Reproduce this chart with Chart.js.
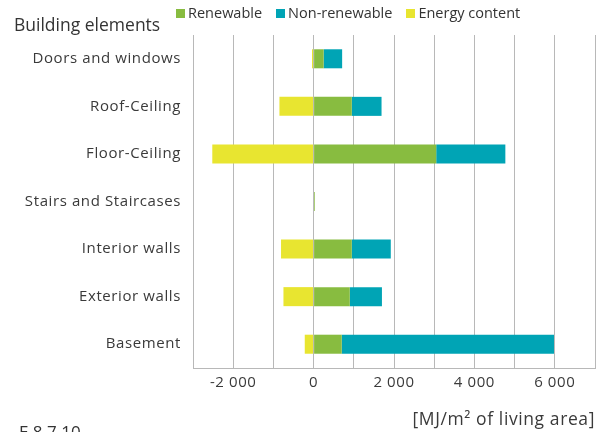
<!DOCTYPE html>
<html>
<head>
<meta charset="utf-8">
<script src="https://cdn.jsdelivr.net/npm/chart.js@4.4.1/dist/chart.umd.min.js"></script>
<style>
  html, body { margin: 0; padding: 0; background: #fff; }
  #wrap { position: relative; width: 601px; height: 432px; overflow: hidden;
          font-family: "Open Sans", sans-serif; color: #333; }
  #chart { position: absolute; left: 0; top: 0; }
  #heading { position: absolute; left: 14px; top: 10px; font-size: 17.5px; line-height: 28px; white-space: nowrap; }
  #legend { position: absolute; left: 176px; top: 3px; display: flex; font-size: 14.5px; line-height: 20px; white-space: nowrap; }
  .item { display: flex; align-items: center; margin-right: 14px; }
  .swatch { width: 9px; height: 9px; margin-right: 3px; }
  #code { position: absolute; left: 19px; top: 420px; font-size: 17px; line-height: 24px; white-space: nowrap; }
</style>
</head>
<body>
<div id="wrap">
  <canvas id="chart" width="601" height="432"></canvas>
  <div id="heading">Building elements</div>
  <div id="legend"></div>
  <div id="code">E 8.7.10</div>
</div>
<script>
// Primary energy per building element, MJ per m² of living area
const categories = ['Doors and windows', 'Roof-Ceiling', 'Floor-Ceiling', 'Stairs and Staircases',
                    'Interior walls', 'Exterior walls', 'Basement'];
const renewable     = [250, 950, 3050, 30, 950, 900, 700];
const nonRenewable  = [460, 740, 1720, 0, 970, 800, 5280];
const energyContent = [-40, -850, -2520, 0, -810, -750, -220];

const seriesNames  = ['Renewable', 'Non-renewable', 'Energy content'];
const seriesColors = ['#88bc40', '#00a4b5', '#e8e530'];

const xMin = -3000, xMax = 7000, xStep = 1000, labelEvery = 2000;

const fmt = v => (v < 0 ? '-' : '') + String(Math.abs(v)).replace(/\B(?=(\d{3})+(?!\d))/g, ' ');

const textColor = '#3a3a3a';
const gridColor = '#b8b8b8';

const datasets = [renewable, nonRenewable, energyContent].map((values, i) => ({
  label: seriesNames[i],
  data: values,
  backgroundColor: seriesColors[i],
  borderWidth: 0,
  categoryPercentage: 1,
  barPercentage: 0.4
}));

// legend row beside the heading
const legendEl = document.getElementById('legend');
datasets.forEach(ds => {
  const item = document.createElement('div');
  item.className = 'item';
  const sw = document.createElement('span');
  sw.className = 'swatch';
  sw.style.background = ds.backgroundColor;
  const txt = document.createElement('span');
  txt.textContent = ds.label;
  item.appendChild(sw);
  item.appendChild(txt);
  legendEl.appendChild(item);
});

// slightly wider tracking for the axis text
const tracking = {
  id: 'tracking',
  beforeDraw(chart) { chart.ctx.letterSpacing = '0.6px'; }
};

new Chart(document.getElementById('chart'), {
  type: 'bar',
  data: { labels: categories, datasets },
  plugins: [tracking],
  options: {
    indexAxis: 'y',
    responsive: false,
    animation: false,
    layout: { padding: { top: 35, right: 5, left: 0, bottom: 0 } },
    plugins: { legend: { display: false }, tooltip: { enabled: false } },
    scales: {
      x: {
        stacked: true,
        min: xMin, max: xMax,
        afterFit: s => { s.height = 64; },
        grid: { color: gridColor, lineWidth: 1, drawTicks: false },
        border: { color: gridColor },
        ticks: {
          stepSize: xStep,
          autoSkip: false,
          maxRotation: 0,
          padding: 6,
          color: textColor,
          font: { family: 'Open Sans', size: 15 },
          callback: v => (v % labelEvery === 0 && v > xMin && v < xMax) ? fmt(v) : ''
        },
        title: {
          display: true,
          text: '[MJ/m² of living area]',
          align: 'end',
          color: textColor,
          font: { family: 'Open Sans', size: 17.5 },
          padding: { top: 0, bottom: 1 }
        }
      },
      y: {
        stacked: true,
        afterFit: s => { s.width = 193; },
        grid: { display: false, drawTicks: false },
        border: { color: gridColor },
        ticks: {
          padding: 12,
          color: textColor,
          font: { family: 'Open Sans', size: 15 }
        }
      }
    }
  }
});
</script>
</body>
</html>
